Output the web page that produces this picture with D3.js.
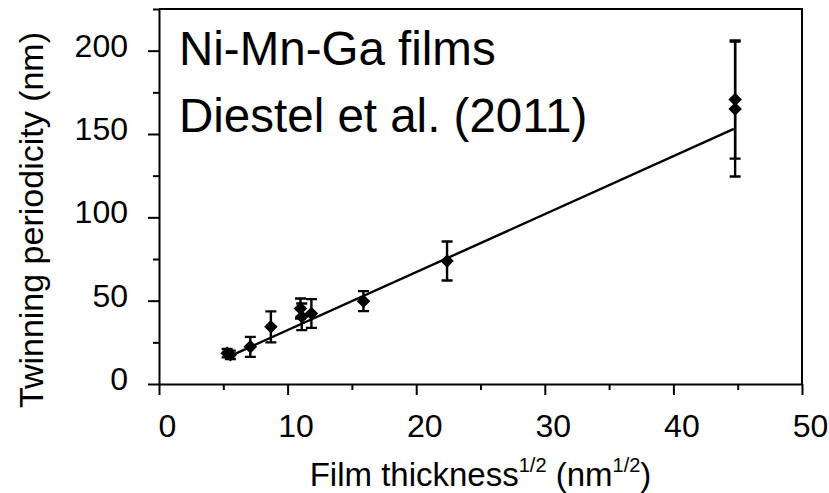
<!DOCTYPE html>
<html>
<head>
<meta charset="utf-8">
<script src="https://cdn.jsdelivr.net/npm/d3@7"></script>
<style>
  body { margin: 0; background: #fff; }
  text { font-family: "Liberation Sans", Arial, sans-serif; fill: #000; }
</style>
</head>
<body>
<svg id="chart" width="829" height="493"></svg>
<script>
// values
const thickness   = [5.3, 5.55, 7.1, 8.7, 11.0, 11.1, 11.85, 15.9, 22.4, 44.8, 44.8];
const periodicity = [18.5, 17.5, 22.3, 34.3, 45.3, 40.3, 42.3, 49.7, 73.8, 170.7, 165.0];
const errors      = [2.5, 2.5, 6.0, 9.3, 6.0, 8.0, 8.6, 6.0, 11.7, 35.5, 40.5];

// linear fit, drawn between its two end points
const fitX = [5.4, 44.7];
const fitY = [16.3, 153.1];

const xTicks = [0, 10, 20, 30, 40, 50];
const xMinor = [5, 15, 25, 35, 45];
const yTicks = [0, 50, 100, 150, 200];
const yMinor = [25, 75, 125, 175, 225];

const labelLines = ["Ni-Mn-Ga films", "Diestel et al. (2011)"];

const width = 829, height = 493;
const margin = {top: 9, right: 27, bottom: 109, left: 159};

const svg = d3.select("#chart");

const x = d3.scaleLinear()
    .domain([0, 50])
    .range([margin.left, width - margin.right]);

const y = d3.scaleLinear()
    .domain([0, 225])
    .range([height - margin.bottom, margin.top]);

const points = thickness.map((t, i) => ({x: t, y: periodicity[i], e: errors[i]}));

// frame (top + right)
svg.append("path")
    .attr("d", `M${x(0)},${y(225)}H${x(50)}V${y(0)}`)
    .attr("fill", "none")
    .attr("stroke", "#000")
    .attr("stroke-width", 2);

// x axis
const xAxis = g => g
    .attr("transform", `translate(0,${y(0)})`)
    .call(d3.axisBottom(x).tickValues(xTicks).tickSize(11).tickPadding(19).tickSizeOuter(0))
    .call(g => g.selectAll("text").attr("dx", 8).style("font-size", "32px"));

svg.append("g").call(xAxis);
svg.append("g")
    .attr("transform", `translate(0,${y(0)})`)
    .call(d3.axisBottom(x).tickValues(xMinor).tickSize(6).tickFormat("").tickSizeOuter(0))
    .call(g => g.select(".domain").remove());

// y axis
const yAxis = g => g
    .attr("transform", `translate(${x(0)},0)`)
    .call(d3.axisLeft(y).tickValues(yTicks).tickSize(11).tickPadding(20).tickSizeOuter(0))
    .call(g => g.selectAll("text").attr("dy", "0.17em").style("font-size", "32px"));

svg.append("g").call(yAxis);
svg.append("g")
    .attr("transform", `translate(${x(0)},0)`)
    .call(d3.axisLeft(y).tickValues(yMinor).tickSize(6).tickFormat("").tickSizeOuter(0))
    .call(g => g.select(".domain").remove());

svg.selectAll(".domain, .tick line")
    .attr("stroke", "#000")
    .attr("stroke-width", 2);
svg.selectAll(".tick text").attr("font-family", null);

// fit line
svg.append("line")
    .attr("x1", x(fitX[0])).attr("y1", y(fitY[0]))
    .attr("x2", x(fitX[1])).attr("y2", y(fitY[1]))
    .attr("stroke", "#000")
    .attr("stroke-width", 2.4);

// error bars
const capW = 5.5;
const err = svg.append("g")
    .attr("stroke", "#000")
    .attr("stroke-width", 2.4)
    .attr("fill", "none");

err.selectAll("path")
    .data(points)
    .join("path")
    .attr("d", d => {
        const cx = x(d.x), t = y(d.y + d.e), b = y(d.y - d.e);
        return `M${cx},${t}V${b}M${cx - capW},${t}H${cx + capW}M${cx - capW},${b}H${cx + capW}`;
    });

// diamond markers
const diamond = d3.symbol(d3.symbolSquare, 92);
svg.append("g")
    .selectAll("path")
    .data(points)
    .join("path")
    .attr("d", diamond)
    .attr("transform", d => `translate(${x(d.x)},${y(d.y)}) rotate(45)`)
    .attr("fill", "#000");

// axis titles
const xTitle = svg.append("text")
    .attr("x", (x(0) + x(50)) / 2)
    .attr("y", 486)
    .attr("text-anchor", "middle")
    .style("font-size", "33px");
xTitle.append("tspan").text("Film thickness");
xTitle.append("tspan").attr("dy", -14).style("font-size", "20px").text("1/2");
xTitle.append("tspan").attr("dy", 14).text(" (nm");
xTitle.append("tspan").attr("dy", -14).style("font-size", "20px").text("1/2");
xTitle.append("tspan").attr("dy", 14).text(")");

svg.append("text")
    .attr("transform", "translate(43,220) rotate(-90)")
    .attr("text-anchor", "middle")
    .style("font-size", "34px")
    .text("Twinning periodicity (nm)");

// annotation
svg.append("g")
    .selectAll("text")
    .data(labelLines)
    .join("text")
    .attr("x", 179)
    .attr("y", (d, i) => 65 + i * 66.7)
    .style("font-size", "47.5px")
    .text(d => d);
</script>
</body>
</html>
